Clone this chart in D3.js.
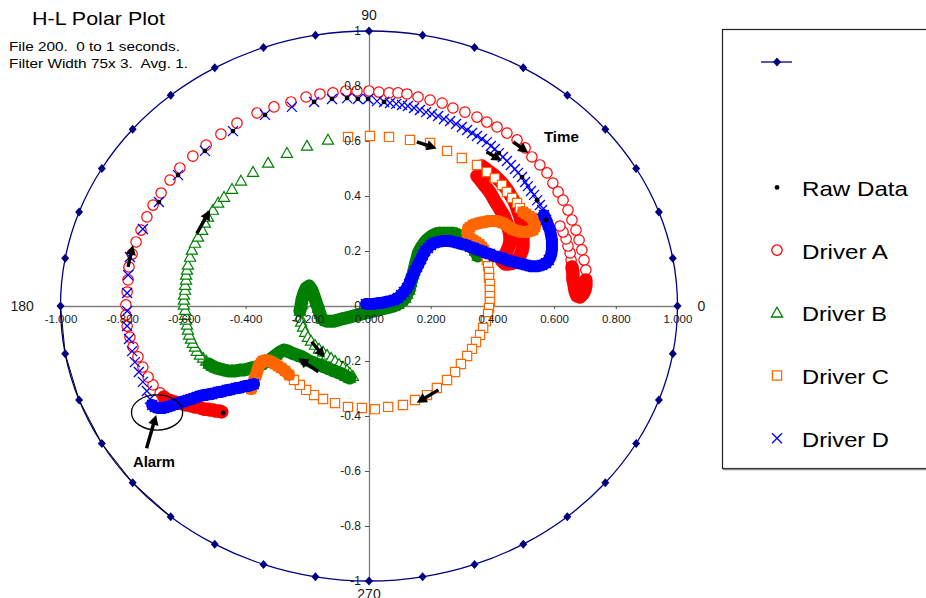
<!DOCTYPE html>
<html>
<head>
<meta charset="utf-8">
<script src="https://cdn.jsdelivr.net/npm/d3@7"></script>
<style>
  body { margin: 0; background: #fff; }
  svg { display: block; }
  text { font-family: "Liberation Sans", Arial, Helvetica, sans-serif; }
</style>
</head>
<body>
<svg id="chart" width="926" height="598"></svg>
<script>
// ---- Reference ring (unit circle) sampled every 10 degrees ----
const ringAngles = [0,10,20,30,40,50,60,70,80,90,100,110,120,130,140,150,160,170,
                    180,190,200,210,220,230,240,250,260,270,280,290,300,310,320,330,340,350];
const chordAngles = [180,190,200,210,220,230];

// ---- Axis ticks ----
const xTicks = [-1,-0.8,-0.6,-0.4,-0.2,0,0.2,0.4,0.6,0.8,1];
const xTickLabels = ["-1.000","-0.800","-0.600","-0.400","-0.200","0.000","0.200","0.400","0.600","0.800","1.000"];
const yTicks = [-1,-0.8,-0.6,-0.4,-0.2,0,0.2,0.4,0.6,0.8,1];
const yTickLabels = ["-1","-0.8","-0.6","-0.4","-0.2","0","0.2","0.4","0.6","0.8","1"];
const angleLabels = ["0","90","180","270"];

// ---- Series (H, L) points ----
const driverA = [
  [-0.477,-0.385],[-0.486,-0.382],[-0.496,-0.382],[-0.506,-0.378],[-0.515,-0.378],[-0.525,-0.375],[-0.535,-0.375],
  [-0.545,-0.371],[-0.554,-0.367],[-0.564,-0.367],[-0.574,-0.364],[-0.583,-0.360],[-0.593,-0.360],[-0.603,-0.356],
  [-0.613,-0.353],[-0.622,-0.353],[-0.632,-0.349],[-0.642,-0.345],[-0.652,-0.342],[-0.658,-0.338],[-0.665,-0.331],
  [-0.677,-0.316],[-0.700,-0.287],[-0.716,-0.258],[-0.733,-0.222],[-0.749,-0.185],[-0.765,-0.149],[-0.775,-0.113],
  [-0.784,-0.073],[-0.788,-0.033],[-0.788,0.004],[-0.784,0.051],[-0.781,0.095],[-0.778,0.142],[-0.768,0.189],
  [-0.755,0.233],[-0.739,0.276],[-0.720,0.324],[-0.700,0.367],[-0.674,0.411],[-0.645,0.458],[-0.613,0.502],
  [-0.571,0.545],[-0.528,0.585],[-0.480,0.625],[-0.428,0.665],[-0.363,0.702],[-0.308,0.724],[-0.253,0.742],
  [-0.204,0.760],[-0.159,0.771],[-0.117,0.775],[-0.075,0.782],[-0.039,0.782],[0,0.782],[0.032,0.778],[0.065,0.775],
  [0.094,0.775],[0.123,0.771],[0.159,0.760],[0.198,0.749],[0.237,0.738],[0.272,0.720],[0.311,0.705],[0.350,0.687],
  [0.382,0.669],[0.415,0.651],[0.447,0.629],[0.480,0.604],[0.506,0.575],[0.528,0.542],[0.554,0.513],[0.577,0.484],
  [0.596,0.447],[0.613,0.415],[0.629,0.385],[0.645,0.349],[0.658,0.313],[0.671,0.276],[0.681,0.240],[0.690,0.204],
  [0.697,0.167],[0.703,0.131],[0.703,0.095],[0.703,0.076],[0.700,0.058],[0.694,0.044],[0.684,0.033],[0.674,0.036],
  [0.668,0.055],[0.665,0.076],[0.661,0.098],[0.661,0.120],[0.658,0.142],[0.655,0.167],[0.652,0.193],[0.645,0.218],
  [0.639,0.244],[0.629,0.269],[0.619,0.291],
  [0.366,0.509],[0.379,0.498],[0.392,0.487],[0.405,0.476],[0.418,0.462],[0.431,0.447],[0.441,0.433],[0.451,0.418],
  [0.460,0.400],[0.470,0.382],[0.477,0.364],[0.483,0.345],[0.489,0.327],[0.493,0.309],[0.496,0.291],[0.499,0.273],
  [0.499,0.255],[0.499,0.236],[0.499,0.218],[0.496,0.200],[0.489,0.182],[0.480,0.167],[0.467,0.156],[0.454,0.153],
  [0.441,0.153],[0.431,0.164],[0.438,0.182],[0.447,0.200],[0.454,0.218],[0.457,0.236],[0.457,0.255],[0.454,0.273],
  [0.451,0.291],[0.444,0.309],[0.438,0.327],[0.428,0.345],[0.418,0.364],[0.408,0.382],[0.399,0.400],[0.389,0.418],
  [0.376,0.436],[0.363,0.455],[0.350,0.473]
];

const driverB = [
  [0.353,0.182],[0.344,0.200],[0.334,0.218],[0.321,0.233],[0.308,0.244],[0.295,0.255],[0.282,0.262],[0.269,0.265],
  [0.256,0.265],[0.243,0.265],[0.230,0.265],[0.217,0.262],[0.204,0.255],[0.191,0.244],[0.182,0.233],[0.172,0.218],
  [0.165,0.204],[0.159,0.189],[0.156,0.175],[0.152,0.160],[0.149,0.145],[0.146,0.131],[0.143,0.116],[0.139,0.102],
  [0.136,0.087],[0.133,0.073],[0.130,0.058],[0.123,0.044],[0.117,0.029],[0.107,0.018],[0.094,0.007],[0.081,0],
  [0.068,-0.004],[0.055,-0.007],[0.042,-0.011],[0.029,-0.015],[0.016,-0.018],[0.003,-0.022],[-0.010,-0.025],
  [-0.023,-0.029],[-0.036,-0.033],[-0.049,-0.036],[-0.062,-0.040],[-0.075,-0.044],[-0.088,-0.047],[-0.100,-0.051],
  [-0.113,-0.055],[-0.126,-0.055],[-0.139,-0.055],[-0.152,-0.047],
  [-0.159,-0.029],[-0.165,-0.007],[-0.172,0.015],[-0.178,0.036],[-0.185,0.058],[-0.194,0.073],[-0.204,0.065],
  [-0.211,0.047],[-0.217,0.025],[-0.220,0.004],[-0.224,-0.018],
  [-0.224,-0.040],[-0.220,-0.058],[-0.214,-0.076],[-0.207,-0.095],[-0.198,-0.113],[-0.188,-0.127],[-0.175,-0.142],
  [-0.162,-0.156],[-0.149,-0.167],[-0.136,-0.178],[-0.123,-0.189],[-0.110,-0.200],[-0.097,-0.211],[-0.084,-0.222],
  [-0.071,-0.233],[-0.062,-0.244],[-0.052,-0.255],
  [-0.062,-0.262],[-0.075,-0.255],[-0.088,-0.247],[-0.104,-0.240],[-0.120,-0.233],[-0.136,-0.225],[-0.152,-0.218],
  [-0.169,-0.211],[-0.185,-0.204],[-0.201,-0.196],[-0.217,-0.185],[-0.233,-0.178],[-0.250,-0.171],[-0.263,-0.164],
  [-0.276,-0.160],[-0.288,-0.167],[-0.301,-0.178],[-0.314,-0.189],[-0.327,-0.200],[-0.340,-0.207],[-0.353,-0.215],
  [-0.366,-0.222],[-0.379,-0.225],[-0.392,-0.229],[-0.405,-0.233],[-0.418,-0.233],[-0.431,-0.236],[-0.444,-0.236],
  [-0.457,-0.236],[-0.470,-0.233],[-0.483,-0.229],[-0.496,-0.225],[-0.509,-0.218],[-0.519,-0.211],[-0.528,-0.200],
  [-0.538,-0.189],[-0.548,-0.178],[-0.558,-0.164],[-0.564,-0.149],[-0.571,-0.135],[-0.577,-0.120],[-0.583,-0.105],
  [-0.587,-0.087],[-0.590,-0.069],[-0.593,-0.051],[-0.596,-0.033],[-0.596,-0.015],[-0.600,0.004],[-0.600,0.022],
  [-0.600,0.040],[-0.596,0.058],[-0.596,0.076],[-0.593,0.095],[-0.593,0.113],[-0.590,0.131],[-0.587,0.149],
  [-0.580,0.178],[-0.574,0.204],[-0.564,0.229],[-0.554,0.251],[-0.541,0.276],[-0.532,0.302],[-0.522,0.324],
  [-0.506,0.349],[-0.489,0.375],[-0.470,0.396],[-0.444,0.425],[-0.415,0.455],[-0.376,0.487],[-0.327,0.520],
  [-0.266,0.556],[-0.201,0.582],[-0.133,0.604]
];

const driverC = [
  [-0.068,0.615],[0.003,0.618],[0.065,0.615],[0.133,0.604],[0.198,0.593],[0.253,0.564],[0.301,0.538],[0.350,0.513],
  [0.382,0.487],[0.408,0.465],[0.431,0.440],[0.447,0.415],[0.464,0.393],[0.480,0.375],[0.489,0.356],[0.499,0.342],
  [0.509,0.335],[0.519,0.327],[0.528,0.320],[0.535,0.309],[0.538,0.298],[0.538,0.287],[0.532,0.276],[0.522,0.273],
  [0.512,0.269],[0.502,0.269],[0.493,0.269],[0.483,0.273],[0.473,0.276],[0.464,0.280],[0.454,0.287],[0.444,0.295],
  [0.434,0.302],[0.425,0.305],[0.415,0.309],[0.405,0.309],[0.395,0.309],[0.386,0.309],[0.376,0.305],[0.366,0.305],
  [0.357,0.302],[0.347,0.298],[0.337,0.295],[0.327,0.287],[0.321,0.280],[0.318,0.269],[0.321,0.258],[0.327,0.247],
  [0.337,0.240],[0.347,0.233],[0.357,0.225],[0.366,0.215],[0.373,0.204],[0.379,0.189],[0.382,0.167],[0.386,0.145],
  [0.389,0.124],[0.389,0.102],[0.392,0.080],[0.392,0.058],[0.392,0.036],[0.392,0.015],[0.389,-0.007],[0.386,-0.029],
  [0.379,-0.055],[0.370,-0.080],[0.360,-0.105],[0.347,-0.131],[0.334,-0.156],[0.318,-0.182],[0.298,-0.211],
  [0.279,-0.240],[0.253,-0.269],[0.220,-0.298],[0.188,-0.324],[0.149,-0.342],[0.110,-0.360],[0.062,-0.367],
  [0.019,-0.375],[-0.023,-0.371],[-0.068,-0.367],[-0.110,-0.353],[-0.149,-0.338],[-0.178,-0.324],[-0.204,-0.305],
  [-0.224,-0.287],[-0.243,-0.269],[-0.259,-0.251],[-0.272,-0.236],[-0.285,-0.225],[-0.295,-0.218],[-0.305,-0.211],
  [-0.314,-0.204],[-0.324,-0.200],[-0.334,-0.196],[-0.344,-0.200],[-0.350,-0.207],[-0.357,-0.218],[-0.360,-0.229],
  [-0.363,-0.240],[-0.366,-0.251],[-0.370,-0.262],[-0.373,-0.273],[-0.376,-0.284],[-0.379,-0.295],[-0.382,-0.302]
];

const driverD = [
  [-0.373,-0.284],[-0.382,-0.287],[-0.392,-0.291],[-0.402,-0.291],[-0.412,-0.295],[-0.421,-0.298],[-0.431,-0.298],
  [-0.441,-0.302],[-0.451,-0.305],[-0.460,-0.305],[-0.470,-0.309],[-0.480,-0.313],[-0.489,-0.313],[-0.499,-0.316],
  [-0.509,-0.320],[-0.519,-0.320],[-0.528,-0.324],[-0.538,-0.324],[-0.548,-0.327],[-0.558,-0.331],[-0.567,-0.335],
  [-0.577,-0.338],[-0.587,-0.342],[-0.596,-0.345],[-0.606,-0.349],[-0.616,-0.353],[-0.626,-0.356],[-0.635,-0.360],
  [-0.645,-0.364],[-0.655,-0.367],[-0.665,-0.371],[-0.674,-0.371],[-0.684,-0.371],[-0.694,-0.367],[-0.703,-0.360],
  [-0.710,-0.338],[-0.720,-0.309],[-0.733,-0.276],[-0.746,-0.240],[-0.759,-0.204],[-0.768,-0.164],[-0.778,-0.120],
  [-0.784,-0.073],[-0.784,-0.018],[-0.784,0.047],[-0.781,0.113],[-0.775,0.178],[-0.733,0.280],[-0.681,0.378],
  [-0.619,0.476],[-0.532,0.564],[-0.441,0.636],[-0.337,0.695],[-0.250,0.724],[-0.178,0.742],[-0.120,0.753],
  [-0.071,0.756],[-0.036,0.753],[-0.003,0.753],[0.026,0.745],[0.049,0.742],[0.068,0.738],
  [0.088,0.735],[0.107,0.731],[0.126,0.727],[0.146,0.720],[0.165,0.713],[0.185,0.705],[0.204,0.698],[0.224,0.691],
  [0.243,0.680],[0.263,0.673],[0.282,0.662],[0.301,0.651],[0.318,0.640],[0.334,0.629],[0.350,0.618],[0.366,0.607],
  [0.382,0.596],[0.395,0.582],[0.408,0.571],[0.421,0.556],[0.434,0.542],[0.447,0.527],[0.460,0.513],[0.473,0.498],
  [0.483,0.484],[0.496,0.469],[0.506,0.451],[0.515,0.436],[0.525,0.418],[0.535,0.404],[0.545,0.385],[0.554,0.367],
  [0.561,0.349],[0.567,0.331],[0.574,0.313],[0.580,0.295],[0.587,0.276],[0.590,0.258],[0.593,0.240],[0.593,0.222],
  [0.593,0.204],[0.590,0.185],[0.583,0.167],[0.574,0.156],[0.561,0.149],
  [0.548,0.145],[0.535,0.145],[0.522,0.145],[0.509,0.149],[0.496,0.153],[0.483,0.156],[0.470,0.160],[0.457,0.164],
  [0.444,0.167],[0.431,0.175],[0.418,0.178],[0.405,0.182],[0.392,0.189],[0.379,0.193],[0.366,0.200],[0.353,0.204],
  [0.340,0.211],[0.327,0.215],[0.314,0.222],[0.301,0.225],[0.288,0.229],[0.276,0.233],[0.263,0.236],[0.250,0.236],
  [0.237,0.236],[0.224,0.233],[0.211,0.229],[0.201,0.222],[0.191,0.211],[0.182,0.200],[0.175,0.185],[0.169,0.171],
  [0.162,0.156],[0.156,0.142],[0.149,0.127],[0.143,0.113],[0.136,0.098],[0.130,0.080],[0.123,0.065],[0.113,0.051],
  [0.104,0.040],[0.094,0.029],[0.081,0.022],[0.068,0.018],[0.055,0.015],[0.042,0.011],[0.029,0.011],[0.016,0.007],
  [0.003,0.007],[-0.010,0.007]
];

const rawData = [
  [-0.681,0.378],[-0.619,0.476],[-0.532,0.564],[-0.441,0.636],[-0.337,0.695],[-0.178,0.742],[-0.120,0.753],
  [-0.071,0.756],[-0.036,0.753],[-0.003,0.753],[0.049,0.742],[0.421,0.556],[0.496,0.469],[0.545,0.385],
  [0.574,0.313],[-0.473,-0.389]
];

// Index ranges where consecutive samples pile up into a continuous band
const denseRuns = {
  A: [[0, 20], [83, 93], [100, 142]],
  B: [[0, 60], [78, 111]],
  C: [[15, 52], [87, 105]],
  D: [[0, 34], [95, 156]]
};

// ---- Annotations: direction arrows [x1, y1, x2 (tip), y2 (tip)] ----
const timeArrows = [
  [-0.781,0.142,-0.765,0.222],
  [-0.558,0.264,-0.515,0.349],
  [0.155,0.597,0.219,0.573],
  [0.381,0.561,0.430,0.528],
  [0.468,0.597,0.516,0.557],
  [-0.186,-0.130,-0.143,-0.187],
  [-0.164,-0.239,-0.229,-0.190],
  [0.225,-0.305,0.155,-0.352]
];
const alarmArrow = [-0.721,-0.517,-0.690,-0.396];
const alarmZone = { cx: -0.687, cy: -0.387, rx: 0.083, ry: 0.064 };

const legendLabels = ["", "Raw Data", "Driver A", "Driver B", "Driver C", "Driver D"];

// ---------------------------------------------------------------
const svg = d3.select("#chart");
const x = d3.scaleLinear().domain([-1, 1]).range([60.5, 677.5]);
const y = d3.scaleLinear().domain([-1, 1]).range([581, 31]);
const rad = a => a * Math.PI / 180;

const NAVY = "#000080", RED = "#ff0000", GREEN = "#008000", ORANGE = "#ff6600", BLUE = "#0000ff";

// Axes (lines below the data)
const axisLayer = svg.append("g");
const gxLines = axisLayer.append("g").attr("transform", `translate(0,${y(0)})`)
  .call(d3.axisBottom(x).tickValues(xTicks).tickSize(3).tickFormat(""));
gxLines.select(".domain").attr("stroke", "#7f7f7f").attr("stroke-width", 1.3);
gxLines.selectAll(".tick line").attr("stroke", "#555");
const gyLines = axisLayer.append("g").attr("transform", `translate(${x(0)},0)`)
  .call(d3.axisLeft(y).tickValues(yTicks).tickSize(4).tickFormat(""));
gyLines.select(".domain").attr("stroke", "#7f7f7f").attr("stroke-width", 1.3);
gyLines.selectAll(".tick line").attr("stroke", "#555");

// Unit ring
const ringPts = ringAngles.map(a => [Math.cos(rad(a)), Math.sin(rad(a))]);
svg.append("path").datum(ringPts)
  .attr("d", d3.line().x(d => x(d[0])).y(d => y(d[1])).curve(d3.curveCatmullRomClosed.alpha(0.5)))
  .attr("fill", "none").attr("stroke", NAVY).attr("stroke-width", 1.3);
svg.append("path").datum(chordAngles.map(a => [Math.cos(rad(a)), Math.sin(rad(a))]))
  .attr("d", d3.line().x(d => x(d[0])).y(d => y(d[1])))
  .attr("fill", "none").attr("stroke", "#000").attr("stroke-width", 1);
const diamond = "M0,-4.5L4,0L0,4.5L-4,0Z";
svg.append("g").selectAll("path").data(ringPts).join("path")
  .attr("d", diamond)
  .attr("transform", d => `translate(${x(d[0])},${y(d[1])})`)
  .attr("fill", NAVY);

// Marker shapes
const shapes = {
  circle: "M5.2,0A5.2,5.2 0 1,1 -5.2,0A5.2,5.2 0 1,1 5.2,0Z",
  triangle: "M0,-5.6L5.6,4.2L-5.6,4.2Z",
  square: "M-4.6,-4.6H4.6V4.6H-4.6Z",
  cross: "M-5,-5L5,5M-5,5L5,-5"
};
const bandLine = d3.line().x(d => x(d[0])).y(d => y(d[1])).curve(d3.curveLinear);
function drawSeries(data, shape, color, filled, runs, bandWidth) {
  const g = svg.append("g");
  g.selectAll("path.mk").data(data).join("path").attr("class", "mk")
    .attr("d", shapes[shape])
    .attr("transform", d => `translate(${x(d[0])},${y(d[1])})`)
    .attr("fill", filled ? "#fff" : "none")
    .attr("stroke", color)
    .attr("stroke-width", shape === "cross" ? 1.3 : 1.2);
  // where samples are packed tightly the markers merge into a solid band
  runs.forEach(r => {
    g.append("path").datum(data.slice(r[0], r[1] + 1))
      .attr("d", bandLine)
      .attr("fill", "none").attr("stroke", color)
      .attr("stroke-width", bandWidth)
      .attr("stroke-linecap", "round").attr("stroke-linejoin", "round");
  });
}
drawSeries(driverA, "circle", RED, true, denseRuns.A, 13.5);
drawSeries(driverB, "triangle", GREEN, true, denseRuns.B, 13);
drawSeries(driverC, "square", ORANGE, true, denseRuns.C, 12);
drawSeries(driverD, "cross", BLUE, false, denseRuns.D, 12);

svg.append("g").selectAll("circle").data(rawData).join("circle")
  .attr("cx", d => x(d[0])).attr("cy", d => y(d[1])).attr("r", 2.4).attr("fill", "#000");

// Tick labels (above the data)
const gxText = svg.append("g").attr("transform", `translate(0,${y(0)})`)
  .call(d3.axisBottom(x).tickValues(xTicks).tickSize(3).tickPadding(6).tickFormat((d, i) => xTickLabels[i]));
gxText.select(".domain").remove();
gxText.selectAll(".tick line").remove();
gxText.selectAll("text").attr("font-size", 11.5).attr("fill", "#1a1a1a")
  .attr("font-family", "'Liberation Sans', Arial, sans-serif");
const gyText = svg.append("g").attr("transform", `translate(${x(0)},0)`)
  .call(d3.axisLeft(y).tickValues(yTicks).tickSize(4).tickPadding(4).tickFormat((d, i) => yTickLabels[i]));
gyText.select(".domain").remove();
gyText.selectAll(".tick line").remove();
gyText.selectAll("text").attr("font-size", 12).attr("fill", "#1a1a1a")
  .attr("font-family", "'Liberation Sans', Arial, sans-serif");

// Angle labels
const anglePos = [
  { tx: x(1) + 20, ty: y(0) + 4.5, anchor: "start" },
  { tx: x(0), ty: y(1) - 11, anchor: "middle" },
  { tx: x(-1) - 50, ty: y(0) + 4.5, anchor: "start" },
  { tx: x(0), ty: y(-1) + 17.5, anchor: "middle" }
];
svg.append("g").selectAll("text").data(angleLabels).join("text")
  .attr("x", (d, i) => anglePos[i].tx).attr("y", (d, i) => anglePos[i].ty)
  .attr("text-anchor", (d, i) => anglePos[i].anchor)
  .attr("font-size", 14).attr("fill", "#1a1a1a").text(d => d);

// Arrows
function arrow(a, g) {
  const x1 = x(a[0]), y1 = y(a[1]), x2 = x(a[2]), y2 = y(a[3]);
  const dx = x2 - x1, dy = y2 - y1, len = Math.hypot(dx, dy);
  const ux = dx / len, uy = dy / len, head = 10, hw = 5.2;
  const bx = x2 - ux * head, by = y2 - uy * head;
  g.append("line").attr("x1", x1).attr("y1", y1).attr("x2", bx + ux * 2).attr("y2", by + uy * 2)
    .attr("stroke", "#000").attr("stroke-width", 3.4);
  g.append("path")
    .attr("d", `M${x2},${y2}L${bx - uy * hw},${by + ux * hw}L${bx + uy * hw},${by - ux * hw}Z`)
    .attr("fill", "#000");
}
const annot = svg.append("g");
timeArrows.forEach(a => arrow(a, annot));
arrow(alarmArrow, annot);
annot.append("ellipse")
  .attr("cx", x(alarmZone.cx)).attr("cy", y(alarmZone.cy))
  .attr("rx", x(alarmZone.rx) - x(0)).attr("ry", y(0) - y(alarmZone.ry))
  .attr("fill", "none").attr("stroke", "#000").attr("stroke-width", 1.3);
annot.append("text").attr("x", x(0.567)).attr("y", y(0.596))
  .attr("font-size", 14).attr("font-weight", "bold").attr("textLength", 35)
  .attr("lengthAdjust", "spacingAndGlyphs").text("Time");
annot.append("text").attr("x", x(-0.765)).attr("y", y(-0.585))
  .attr("font-size", 14).attr("font-weight", "bold").attr("textLength", 42)
  .attr("lengthAdjust", "spacingAndGlyphs").text("Alarm");

// Title block
svg.append("text").attr("x", 32).attr("y", 25).attr("font-size", 19)
  .attr("textLength", 133).attr("lengthAdjust", "spacingAndGlyphs").text("H-L Polar Plot");
svg.append("text").attr("x", 9).attr("y", 51).attr("font-size", 13.5).style("white-space", "pre")
  .attr("textLength", 171).attr("lengthAdjust", "spacingAndGlyphs").text("File 200.  0 to 1 seconds.");
svg.append("text").attr("x", 9).attr("y", 68).attr("font-size", 13.5).style("white-space", "pre")
  .attr("textLength", 179).attr("lengthAdjust", "spacingAndGlyphs").text("Filter Width 75x 3.  Avg. 1.");

// Legend
const lg = svg.append("g");
lg.append("rect").attr("x", 722.5).attr("y", 29.5).attr("width", 260).attr("height", 439)
  .attr("fill", "#fff").attr("stroke", "#222").attr("stroke-width", 1.2);
lg.append("line").attr("x1", 723).attr("x2", 926).attr("y1", 469.5).attr("y2", 469.5)
  .attr("stroke", "#888").attr("stroke-width", 1.5);
const rowIndex = [0, 2, 3, 4, 5, 6];
const labelWidths = [0, 106, 86, 85, 87, 87];
const rowY = k => 62 + 62.7 * k;
const mx = 777;
// first entry: the ring's line with its diamond marker
lg.append("line").attr("x1", 761).attr("x2", 792).attr("y1", rowY(0)).attr("y2", rowY(0))
  .attr("stroke", NAVY).attr("stroke-width", 1.3);
lg.append("path").attr("d", diamond).attr("transform", `translate(${mx},${rowY(0)})`).attr("fill", NAVY);
lg.append("circle").attr("cx", mx).attr("cy", rowY(2)).attr("r", 2.4).attr("fill", "#000");
const legendMarks = [null, null, ["circle", RED, true], ["triangle", GREEN, true], ["square", ORANGE, true], ["cross", BLUE, false]];
legendMarks.forEach((m, i) => {
  if (!m) return;
  lg.append("path").attr("d", shapes[m[0]])
    .attr("transform", `translate(${mx},${rowY(rowIndex[i])})`)
    .attr("fill", m[2] ? "#fff" : "none").attr("stroke", m[1]).attr("stroke-width", 1.3);
});
legendLabels.forEach((t, i) => {
  if (!t) return;
  lg.append("text").attr("x", 802).attr("y", rowY(rowIndex[i]) + 8.5)
    .attr("font-size", 21).attr("fill", "#000")
    .attr("textLength", labelWidths[i]).attr("lengthAdjust", "spacingAndGlyphs").text(t);
});
</script>
</body>
</html>
